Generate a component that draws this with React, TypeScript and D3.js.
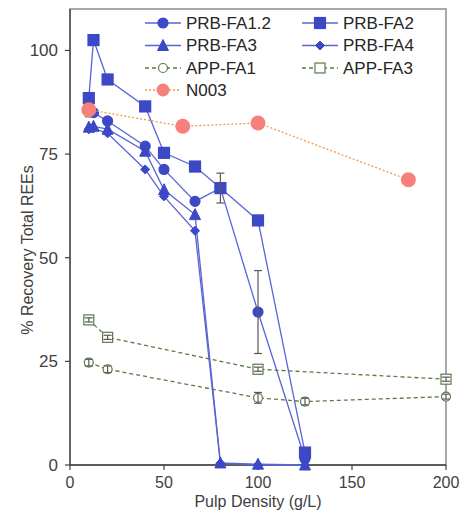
import React from "react";
import * as d3 from "d3";

const xPRB = [10, 12.5, 20, 40, 50, 66.5, 80, 100, 125];
const prbFA12 = [85.5, 85, 83, 76.9, 71.3, 63.6, 66.8, 36.9, 1.5];
const prbFA2 = [88.5, 102.5, 93, 86.5, 75.3, 72, 66.8, 59, 3];
const prbFA3 = [81.5, 81.7, 81, 75.7, 66.4, 60.4, 0.5, 0.2, 0];
const prbFA4 = [81, 81.2, 80, 71.3, 64.8, 56.5, 0.4, 0, 0];
const errFA12 = [1.5, 0, 0, 0, 0, 0, 3.6, 10, 0];

const xAPP1 = [10, 20, 100, 125, 200];
const appFA1 = [24.7, 23.1, 16.2, 15.3, 16.5];
const errAPP1 = [0.8, 0.8, 1.3, 0.8, 0.6];
const xAPP3 = [10, 20, 100, 200];
const appFA3 = [35, 30.8, 23.1, 20.7];
const errAPP3 = [0.5, 0.5, 0.5, 0.5];

const xN003 = [10, 60, 100, 180];
const n003 = [85.7, 81.7, 82.5, 68.8];

const xTicks = [0, 50, 100, 150, 200];
const yTicks = [0, 25, 50, 75, 100];

const BLUE = "#3c48c6";
const BLUE_LINE = "#5865d4";
const GREEN = "#5b7b47";
const SALMON = "#f8807a";
const ORANGE = "#f39a45";
const TXT = "#404040";
const FONT = "Liberation Sans, Arial, sans-serif";

type Shape = "circle" | "square" | "triangle" | "diamond";

function Marker({ shape, cx, cy, size, fill, stroke }: { shape: Shape; cx: number; cy: number; size: number; fill: string; stroke: string }) {
  const h = size / 2;
  if (shape === "circle") return <circle cx={cx} cy={cy} r={h} fill={fill} stroke={stroke} strokeWidth={1.2} />;
  if (shape === "square") return <rect x={cx - h} y={cy - h} width={size} height={size} fill={fill} stroke={stroke} strokeWidth={1.2} />;
  if (shape === "triangle")
    return <path d={`M${cx},${cy - h - 1}L${cx + h + 0.5},${cy + h}L${cx - h - 0.5},${cy + h}Z`} fill={fill} stroke={stroke} strokeWidth={1} />;
  return <path d={`M${cx},${cy - h}L${cx + h},${cy}L${cx},${cy + h}L${cx - h},${cy}Z`} fill={fill} stroke={stroke} strokeWidth={1} />;
}

export default function App() {
  const W = 461, H = 512;
  const x = d3.scaleLinear().domain([0, 200]).range([70, 446]);
  const y = d3.scaleLinear().domain([0, 110]).range([465, 9]);
  const line = d3.line<[number, number]>().x(d => x(d[0])).y(d => y(d[1]));
  const zip = (xs: number[], ys: number[]) => xs.map((v, i) => [v, ys[i]] as [number, number]);

  const prb = [
    { name: "PRB-FA1.2", ys: prbFA12, shape: "circle" as Shape, size: 10 },
    { name: "PRB-FA2", ys: prbFA2, shape: "square" as Shape, size: 11 },
    { name: "PRB-FA3", ys: prbFA3, shape: "triangle" as Shape, size: 10 },
    { name: "PRB-FA4", ys: prbFA4, shape: "diamond" as Shape, size: 9 },
  ];

  const errBar = (xv: number, yv: number, e: number, key: string) => {
    if (!e) return null;
    const px = x(xv), y1 = y(yv + e), y2 = y(yv - e);
    return (
      <g key={key} stroke="#595959" strokeWidth={1.2}>
        <line x1={px} x2={px} y1={y1} y2={y2} />
        <line x1={px - 4} x2={px + 4} y1={y1} y2={y1} />
        <line x1={px - 4} x2={px + 4} y1={y2} y2={y2} />
      </g>
    );
  };

  const legend = [
    { name: "PRB-FA1.2", col: 0, row: 0, shape: "circle" as Shape, size: 10, fill: BLUE, stroke: BLUE, lc: BLUE_LINE, dash: "none" },
    { name: "PRB-FA2", col: 1, row: 0, shape: "square" as Shape, size: 11, fill: BLUE, stroke: BLUE, lc: BLUE_LINE, dash: "none" },
    { name: "PRB-FA3", col: 0, row: 1, shape: "triangle" as Shape, size: 10, fill: BLUE, stroke: BLUE, lc: BLUE_LINE, dash: "none" },
    { name: "PRB-FA4", col: 1, row: 1, shape: "diamond" as Shape, size: 9, fill: BLUE, stroke: BLUE, lc: BLUE_LINE, dash: "none" },
    { name: "APP-FA1", col: 0, row: 2, shape: "circle" as Shape, size: 9, fill: "white", stroke: GREEN, lc: GREEN, dash: "4,3" },
    { name: "APP-FA3", col: 1, row: 2, shape: "square" as Shape, size: 10, fill: "white", stroke: GREEN, lc: GREEN, dash: "4,3" },
    { name: "N003", col: 0, row: 3, shape: "circle" as Shape, size: 15, fill: SALMON, stroke: SALMON, lc: ORANGE, dash: "2,2" },
  ];
  const colX = [145, 302];
  const rowY = [23, 45.5, 68, 90];

  return (
    <div style={{ position: "absolute", left: 0, top: 0 }}>
      <svg width={W} height={H} style={{ display: "block", background: "white" }} fontFamily={FONT}>
        <rect x={x(0)} y={y(110)} width={x(200) - x(0)} height={y(0) - y(110)} fill="none" stroke="#8c8c8c" strokeWidth={1.5} />
        {/* axes */}
        <line x1={x(0)} x2={x(0)} y1={y(110)} y2={y(0)} stroke={TXT} strokeWidth={1.3} />
        <line x1={x(0)} x2={x(200)} y1={y(0)} y2={y(0)} stroke={TXT} strokeWidth={1.3} />
        {yTicks.map(t => (
          <g key={"y" + t}>
            <line x1={x(0) - 5} x2={x(0)} y1={y(t)} y2={y(t)} stroke={TXT} strokeWidth={1.2} />
            <text x={58} y={y(t)} dy="0.35em" textAnchor="end" fontSize={17} fill={TXT}>{t}</text>
          </g>
        ))}
        {xTicks.map(t => (
          <g key={"x" + t}>
            <line x1={x(t)} x2={x(t)} y1={y(0)} y2={y(0) + 5} stroke={TXT} strokeWidth={1.2} />
            <text x={x(t)} y={488} textAnchor="middle" fontSize={16} fill={TXT}>{t}</text>
          </g>
        ))}
        <text x={(x(0) + x(200)) / 2} y={507} textAnchor="middle" fontSize={16} fill={TXT}>Pulp Density (g/L)</text>
        <text transform={`translate(27,250) rotate(-90)`} textAnchor="middle" dy="0.35em" fontSize={16} fill={TXT}>% Recovery Total REEs</text>

        {/* PRB series */}
        {prb.map(s => (
          <g key={s.name}>
            <path d={line(zip(xPRB, s.ys)) || ""} fill="none" stroke={BLUE_LINE} strokeWidth={1.3} />
          </g>
        ))}
        {prb.map(s => (
          <g key={s.name + "m"}>
            {xPRB.map((xv, i) => (
              <Marker key={i} shape={s.shape} cx={x(xv)} cy={y(s.ys[i])} size={s.size} fill={BLUE} stroke={BLUE} />
            ))}
          </g>
        ))}
        {xPRB.map((xv, i) => errBar(xv, prbFA12[i], errFA12[i], "e12" + i))}

        {/* APP series */}
        <path d={line(zip(xAPP1, appFA1)) || ""} fill="none" stroke={GREEN} strokeWidth={1.3} strokeDasharray="4,3" />
        {xAPP1.map((xv, i) => (
          <Marker key={"a1" + i} shape="circle" cx={x(xv)} cy={y(appFA1[i])} size={9} fill="white" stroke={GREEN} />
        ))}
        {xAPP1.map((xv, i) => errBar(xv, appFA1[i], errAPP1[i], "ea1" + i))}
        <path d={line(zip(xAPP3, appFA3)) || ""} fill="none" stroke={GREEN} strokeWidth={1.3} strokeDasharray="4,3" />
        {xAPP3.map((xv, i) => (
          <Marker key={"a3" + i} shape="square" cx={x(xv)} cy={y(appFA3[i])} size={10} fill="white" stroke={GREEN} />
        ))}
        {xAPP3.map((xv, i) => errBar(xv, appFA3[i], errAPP3[i], "ea3" + i))}

        {/* N003 */}
        <path d={line(zip(xN003, n003)) || ""} fill="none" stroke={ORANGE} strokeWidth={1.3} strokeDasharray="2,2" />
        {xN003.map((xv, i) => (
          <circle key={"n" + i} cx={x(xv)} cy={y(n003[i])} r={7.5} fill={SALMON} />
        ))}

        {/* legend */}
        {legend.map(l => {
          const lx = colX[l.col], ly = rowY[l.row];
          return (
            <g key={"lg" + l.name}>
              <line x1={lx} x2={lx + 36} y1={ly} y2={ly} stroke={l.lc} strokeWidth={1.3} strokeDasharray={l.dash} />
              {l.name === "N003" ? (
                <circle cx={lx + 18} cy={ly} r={6.5} fill={SALMON} />
              ) : (
                <Marker shape={l.shape} cx={lx + 18} cy={ly} size={l.size} fill={l.fill} stroke={l.stroke} />
              )}
              <text x={lx + 41} y={ly} dy="0.35em" fontSize={17} fill="#262626">{l.name}</text>
            </g>
          );
        })}
      </svg>
    </div>
  );
}
